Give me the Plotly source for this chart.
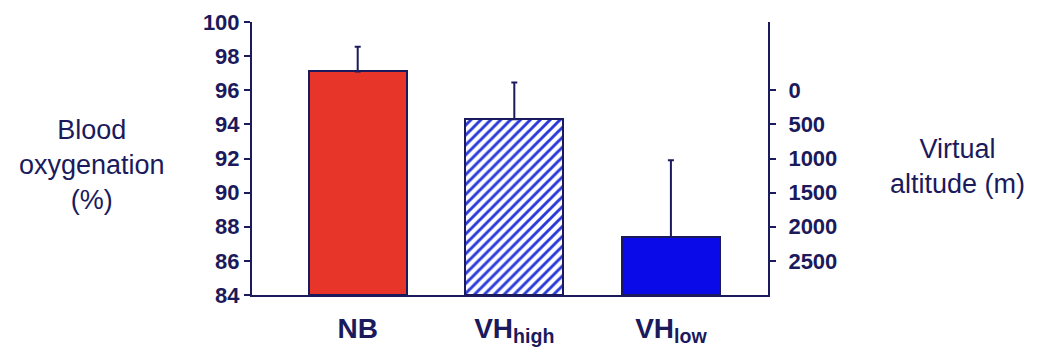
import plotly.graph_objects as go

categories = ["NB", "VH<sub>high</sub>", "VH<sub>low</sub>"]
oxygenation = [97.1, 94.3, 87.4]
sd_upper = [1.45, 2.15, 4.5]
sd_lower = [0, 0, 0]
left_ticks = [84, 86, 88, 90, 92, 94, 96, 98, 100]
altitude_ticks = [0, 500, 1000, 1500, 2000, 2500]

NAVY = "#1a1a5c"
fill_colors = ["#e8352a", "#ffffff", "#0a0ae8"]
patterns = ["", "/", ""]
HATCH = "#2a3ad8"

# page body has an 8px margin; place the plot area at the reference's pixels
OFF = 8
W, H = 1038 - 2 * OFF, 356 - OFF
L, T = 252 - OFF, 22 - OFF
PW, PH = 768 - 252, 295 - 22
R, B = W - L - PW, H - T - PH

fig = go.Figure()
for cat, val, up, dn, col, pat in zip(categories, oxygenation, sd_upper, sd_lower,
                                      fill_colors, patterns):
    marker = dict(color=col, line=dict(color=NAVY, width=2))
    if pat:
        marker["pattern"] = dict(shape=pat, fgcolor=HATCH, bgcolor="#ffffff",
                                 fgopacity=1, size=7, solidity=0.42)
    fig.add_trace(go.Bar(
        x=[cat], y=[val - 84], base=84, width=0.625, marker=marker,
        error_y=dict(type="data", symmetric=False, array=[up], arrayminus=[dn],
                     color=NAVY, thickness=2, width=3),
        showlegend=False, hoverinfo="skip",
    ))
fig.add_trace(go.Scatter(x=[None], y=[None], yaxis="y2", showlegend=False,
                         hoverinfo="skip", mode="markers"))


def px_to_paper(px, py):
    return (px - OFF - L) / PW, 1 - (py - OFF - T) / PH


ax1, ay1 = px_to_paper(92, 165)
ax2, ay2 = px_to_paper(957, 166)

fig.update_layout(
    width=W, height=H,
    margin=dict(l=L, r=R, t=T, b=B, autoexpand=False),
    paper_bgcolor="white", plot_bgcolor="white",
    font=dict(family="Liberation Sans, Arial, sans-serif", color=NAVY),
    barmode="overlay", bargap=0,
    xaxis=dict(
        range=[-0.675, 2.62], showline=True, linecolor=NAVY, linewidth=2,
        ticks="", showgrid=False, zeroline=False, automargin=False,
        categoryorder="array", categoryarray=categories,
        tickfont=dict(size=28, weight="bold", color=NAVY),
        ticklabelstandoff=7,
    ),
    yaxis=dict(
        range=[84, 100], tickvals=left_ticks, showline=True, linecolor=NAVY,
        linewidth=2, ticks="outside", ticklen=6, tickwidth=2, tickcolor=NAVY,
        showgrid=False, zeroline=False, automargin=False,
        tickfont=dict(size=22, weight="bold", color=NAVY),
        ticklabelstandoff=0,
    ),
    yaxis2=dict(
        overlaying="y", side="right", anchor="x",
        range=[3000, -1000], tickvals=altitude_ticks, showline=True,
        linecolor=NAVY, linewidth=2, ticks="outside", ticklen=6, tickwidth=2,
        tickcolor=NAVY, showgrid=False, zeroline=False, automargin=False,
        tickfont=dict(size=22, weight="bold", color=NAVY),
        ticklabelstandoff=8,
    ),
    annotations=[
        dict(text="Blood<br>oxygenation<br>(%)", x=ax1, y=ay1, xref="paper",
             yref="paper", xanchor="center", yanchor="middle", showarrow=False,
             font=dict(size=27, color=NAVY)),
        dict(text="Virtual<br>altitude (m)", x=ax2, y=ay2, xref="paper",
             yref="paper", xanchor="center", yanchor="middle", showarrow=False,
             font=dict(size=27, color=NAVY)),
    ],
)

fig.write_html("out.html")
